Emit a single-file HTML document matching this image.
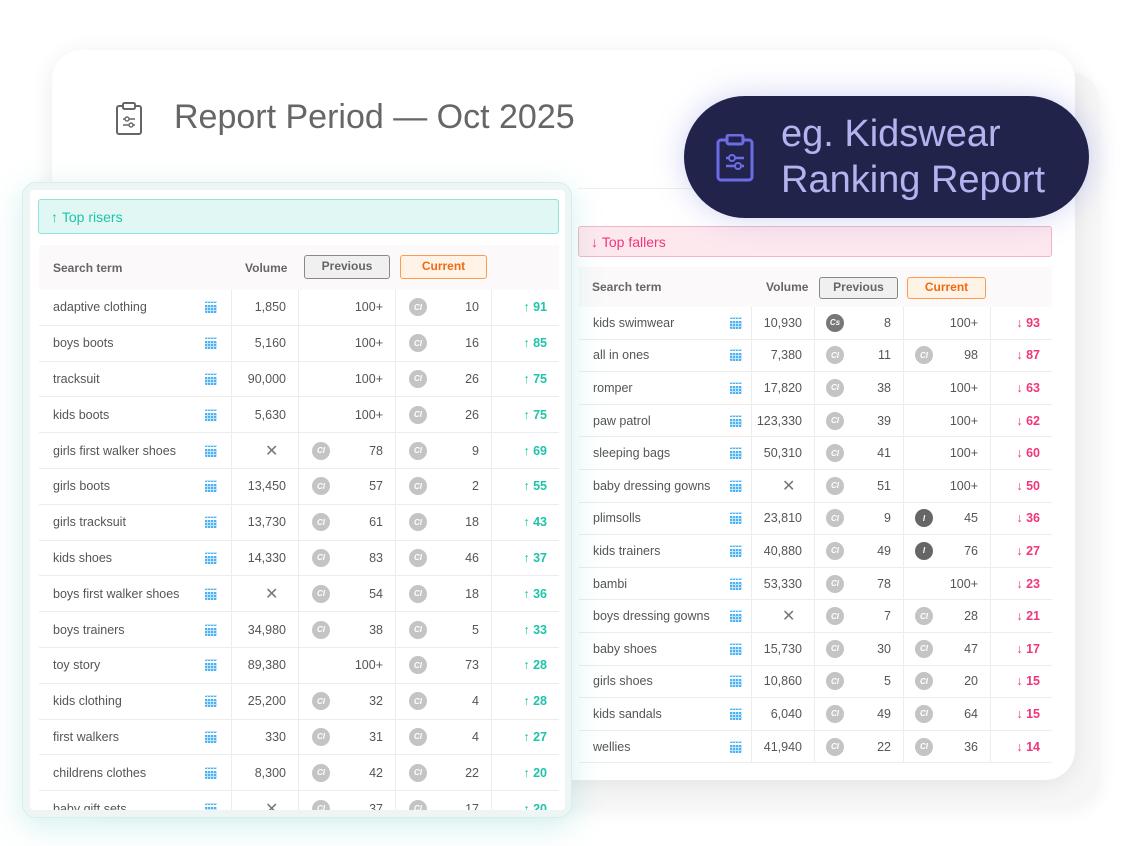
<!DOCTYPE html>
<html><head><meta charset="utf-8"><style>
*{box-sizing:border-box;margin:0;padding:0}
body{width:1140px;height:846px;background:#fff;position:relative;overflow:hidden;font-family:"Liberation Sans",sans-serif;color:#555}
.back2{position:absolute;left:80px;top:72px;width:1020px;height:732px;border-radius:30px;background:#f6f6f6;box-shadow:0 6px 20px rgba(0,0,0,.06)}
.back{position:absolute;left:52px;top:50px;width:1023px;height:730px;border-radius:30px;background:#fff;box-shadow:0 4px 24px rgba(0,0,0,.08)}
.title{position:absolute;left:174px;top:98px;font-size:34px;color:#666;letter-spacing:0px}
.pill{position:absolute;left:684px;top:96px;width:405px;height:122px;border-radius:61px;background:#22234a;box-shadow:0 0 30px rgba(120,130,220,.35)}
.pill .t{position:absolute;left:97px;top:15px;font-size:38px;line-height:46px;color:#b4b3ef}
.left{position:absolute;left:22px;top:182px;width:550px;height:636px;border-radius:14px;background:#eef6f5;border:1px solid #d6efec;box-shadow:0 8px 30px rgba(80,200,190,.25)}
.leftin{position:absolute;left:30px;top:190px;width:535px;height:620px;background:#fff;overflow:hidden;border-radius:4px}
.hdr{position:absolute;font-size:14px;display:flex;align-items:center;padding-left:12px;border-radius:3px}
.rise{left:38px;top:199px;width:521px;height:35px;background:#e1f7f4;border:1.5px solid #8fe3d8;color:#1ec4a8}
.fall{left:578px;top:226px;width:474px;height:31px;background:#fde8ee;border:1.5px solid #f6b3c8;color:#f0357a}
.thead{position:absolute;background:#fbf9f9;font-size:12px;font-weight:bold;color:#666}
.thead span{position:absolute}
.btn{position:absolute;border-radius:3px;text-align:center;font-size:12px;font-weight:bold}
.prevb{background:#f0f0f0;border:1.5px solid #888;color:#666}
.curb{background:#fff3e8;border:1.5px solid #ff9a4a;color:#f26a10}
.tbl{position:absolute;font-size:12.5px;color:#555}
.row{display:flex;border-bottom:1.5px solid #ececec}
.c{position:relative;border-right:1.5px solid #ececec;display:flex;align-items:center;justify-content:flex-end;padding-right:12px}
.c:last-child{border-right:none}
.c.term{justify-content:flex-start;padding-left:14px}
.cal{position:absolute;width:12px;height:12px;background:#4db0f0;border-radius:1px;background-image:linear-gradient(#fff 0 0),repeating-linear-gradient(90deg,transparent 0 2px,#bfe4fb 2px 3px),repeating-linear-gradient(0deg,transparent 0 2px,#bfe4fb 2px 3px);background-size:12px 2px,100% 100%,100% 100%;background-repeat:no-repeat;background-position:0 2px,0 0,0 0}
.ci{position:absolute;width:18px;height:18px;border-radius:50%;background:#c4c4c4;color:#fff;font-size:8px;font-weight:bold;display:flex;align-items:center;justify-content:center}
.ci.d{background:#666}
.x{position:absolute;font-size:16px;color:#777;font-weight:normal}
.up{color:#1ec4a8;font-weight:bold}
.dn{color:#f0357a;font-weight:bold}
</style></head><body>
<div class="back2"></div>
<div class="back"></div>
<svg style="position:absolute;left:114px;top:102px" width="30" height="34" viewBox="0 0 30 34"><rect x="3" y="4" width="24" height="28" rx="2" fill="none" stroke="#666" stroke-width="2"/><rect x="9" y="1" width="12" height="6" rx="1.5" fill="#fff" stroke="#666" stroke-width="2"/><path d="M9 17h12M9 23h12" stroke="#666" stroke-width="1.6"/><circle cx="13" cy="17" r="2" fill="#fff" stroke="#666" stroke-width="1.4"/><circle cx="17" cy="23" r="2" fill="#fff" stroke="#666" stroke-width="1.4"/></svg>
<div class="title">Report Period — Oct 2025</div>
<div style="position:absolute;left:578px;top:188px;width:490px;border-top:1px solid #eee"></div>

<div class="hdr fall">↓&nbsp;Top fallers</div>
<div class="thead" style="left:579px;top:267px;width:473px;height:40px">
<span style="left:13px;top:13px">Search term</span><span style="left:187px;top:13px">Volume</span>
</div>
<div class="btn prevb" style="left:819px;top:277px;width:79px;height:22px;line-height:19px">Previous</div>
<div class="btn curb" style="left:907px;top:277px;width:79px;height:22px;line-height:19px">Current</div>
<div class="tbl" style="left:579px;top:307px;width:473px">
<div class="row" style="height:32.6px"><div class="c term" style="width:173px">kids swimwear<i class="cal" style="left:151px"></i></div><div class="c" style="width:63px">10,930</div><div class="c" style="width:89px"><i class="ci d" style="left:11px;background:#777">Cs</i>8</div><div class="c" style="width:87px">100+</div><div class="c dn" style="width:61px">↓ 93</div></div>
<div class="row" style="height:32.6px"><div class="c term" style="width:173px">all in ones<i class="cal" style="left:151px"></i></div><div class="c" style="width:63px">7,380</div><div class="c" style="width:89px"><i class="ci" style="left:11px">CI</i>11</div><div class="c" style="width:87px"><i class="ci" style="left:11px">CI</i>98</div><div class="c dn" style="width:61px">↓ 87</div></div>
<div class="row" style="height:32.6px"><div class="c term" style="width:173px">romper<i class="cal" style="left:151px"></i></div><div class="c" style="width:63px">17,820</div><div class="c" style="width:89px"><i class="ci" style="left:11px">CI</i>38</div><div class="c" style="width:87px">100+</div><div class="c dn" style="width:61px">↓ 63</div></div>
<div class="row" style="height:32.6px"><div class="c term" style="width:173px">paw patrol<i class="cal" style="left:151px"></i></div><div class="c" style="width:63px">123,330</div><div class="c" style="width:89px"><i class="ci" style="left:11px">CI</i>39</div><div class="c" style="width:87px">100+</div><div class="c dn" style="width:61px">↓ 62</div></div>
<div class="row" style="height:32.6px"><div class="c term" style="width:173px">sleeping bags<i class="cal" style="left:151px"></i></div><div class="c" style="width:63px">50,310</div><div class="c" style="width:89px"><i class="ci" style="left:11px">CI</i>41</div><div class="c" style="width:87px">100+</div><div class="c dn" style="width:61px">↓ 60</div></div>
<div class="row" style="height:32.6px"><div class="c term" style="width:173px">baby dressing gowns<i class="cal" style="left:151px"></i></div><div class="c" style="width:63px"><span class="x" style="left:30px">✕</span></div><div class="c" style="width:89px"><i class="ci" style="left:11px">CI</i>51</div><div class="c" style="width:87px">100+</div><div class="c dn" style="width:61px">↓ 50</div></div>
<div class="row" style="height:32.6px"><div class="c term" style="width:173px">plimsolls<i class="cal" style="left:151px"></i></div><div class="c" style="width:63px">23,810</div><div class="c" style="width:89px"><i class="ci" style="left:11px">CI</i>9</div><div class="c" style="width:87px"><i class="ci d" style="left:11px">I</i>45</div><div class="c dn" style="width:61px">↓ 36</div></div>
<div class="row" style="height:32.6px"><div class="c term" style="width:173px">kids trainers<i class="cal" style="left:151px"></i></div><div class="c" style="width:63px">40,880</div><div class="c" style="width:89px"><i class="ci" style="left:11px">CI</i>49</div><div class="c" style="width:87px"><i class="ci d" style="left:11px">I</i>76</div><div class="c dn" style="width:61px">↓ 27</div></div>
<div class="row" style="height:32.6px"><div class="c term" style="width:173px">bambi<i class="cal" style="left:151px"></i></div><div class="c" style="width:63px">53,330</div><div class="c" style="width:89px"><i class="ci" style="left:11px">CI</i>78</div><div class="c" style="width:87px">100+</div><div class="c dn" style="width:61px">↓ 23</div></div>
<div class="row" style="height:32.6px"><div class="c term" style="width:173px">boys dressing gowns<i class="cal" style="left:151px"></i></div><div class="c" style="width:63px"><span class="x" style="left:30px">✕</span></div><div class="c" style="width:89px"><i class="ci" style="left:11px">CI</i>7</div><div class="c" style="width:87px"><i class="ci" style="left:11px">CI</i>28</div><div class="c dn" style="width:61px">↓ 21</div></div>
<div class="row" style="height:32.6px"><div class="c term" style="width:173px">baby shoes<i class="cal" style="left:151px"></i></div><div class="c" style="width:63px">15,730</div><div class="c" style="width:89px"><i class="ci" style="left:11px">CI</i>30</div><div class="c" style="width:87px"><i class="ci" style="left:11px">CI</i>47</div><div class="c dn" style="width:61px">↓ 17</div></div>
<div class="row" style="height:32.6px"><div class="c term" style="width:173px">girls shoes<i class="cal" style="left:151px"></i></div><div class="c" style="width:63px">10,860</div><div class="c" style="width:89px"><i class="ci" style="left:11px">CI</i>5</div><div class="c" style="width:87px"><i class="ci" style="left:11px">CI</i>20</div><div class="c dn" style="width:61px">↓ 15</div></div>
<div class="row" style="height:32.6px"><div class="c term" style="width:173px">kids sandals<i class="cal" style="left:151px"></i></div><div class="c" style="width:63px">6,040</div><div class="c" style="width:89px"><i class="ci" style="left:11px">CI</i>49</div><div class="c" style="width:87px"><i class="ci" style="left:11px">CI</i>64</div><div class="c dn" style="width:61px">↓ 15</div></div>
<div class="row" style="height:32.6px"><div class="c term" style="width:173px">wellies<i class="cal" style="left:151px"></i></div><div class="c" style="width:63px">41,940</div><div class="c" style="width:89px"><i class="ci" style="left:11px">CI</i>22</div><div class="c" style="width:87px"><i class="ci" style="left:11px">CI</i>36</div><div class="c dn" style="width:61px">↓ 14</div></div>
</div>

<div class="left"></div>
<div class="leftin"></div>
<div class="hdr rise">↑&nbsp;Top risers</div>
<div class="thead" style="left:39px;top:245px;width:520px;height:45px">
<span style="left:14px;top:16px">Search term</span><span style="left:206px;top:16px">Volume</span>
</div>
<div class="btn prevb" style="left:304px;top:255px;width:86px;height:24px;line-height:21px">Previous</div>
<div class="btn curb" style="left:400px;top:255px;width:87px;height:24px;line-height:21px">Current</div>
<div style="position:absolute;left:39px;top:290px;width:520px;height:520px;overflow:hidden">
<div class="tbl" style="left:0;top:0;width:520px">
<div class="row" style="height:35.8px"><div class="c term" style="width:193px">adaptive clothing<i class="cal" style="left:166px"></i></div><div class="c" style="width:67px">1,850</div><div class="c" style="width:97px">100+</div><div class="c" style="width:96px"><i class="ci" style="left:13px">CI</i>10</div><div class="c up" style="width:67px">↑ 91</div></div>
<div class="row" style="height:35.8px"><div class="c term" style="width:193px">boys boots<i class="cal" style="left:166px"></i></div><div class="c" style="width:67px">5,160</div><div class="c" style="width:97px">100+</div><div class="c" style="width:96px"><i class="ci" style="left:13px">CI</i>16</div><div class="c up" style="width:67px">↑ 85</div></div>
<div class="row" style="height:35.8px"><div class="c term" style="width:193px">tracksuit<i class="cal" style="left:166px"></i></div><div class="c" style="width:67px">90,000</div><div class="c" style="width:97px">100+</div><div class="c" style="width:96px"><i class="ci" style="left:13px">CI</i>26</div><div class="c up" style="width:67px">↑ 75</div></div>
<div class="row" style="height:35.8px"><div class="c term" style="width:193px">kids boots<i class="cal" style="left:166px"></i></div><div class="c" style="width:67px">5,630</div><div class="c" style="width:97px">100+</div><div class="c" style="width:96px"><i class="ci" style="left:13px">CI</i>26</div><div class="c up" style="width:67px">↑ 75</div></div>
<div class="row" style="height:35.8px"><div class="c term" style="width:193px">girls first walker shoes<i class="cal" style="left:166px"></i></div><div class="c" style="width:67px"><span class="x" style="left:33px">✕</span></div><div class="c" style="width:97px"><i class="ci" style="left:13px">CI</i>78</div><div class="c" style="width:96px"><i class="ci" style="left:13px">CI</i>9</div><div class="c up" style="width:67px">↑ 69</div></div>
<div class="row" style="height:35.8px"><div class="c term" style="width:193px">girls boots<i class="cal" style="left:166px"></i></div><div class="c" style="width:67px">13,450</div><div class="c" style="width:97px"><i class="ci" style="left:13px">CI</i>57</div><div class="c" style="width:96px"><i class="ci" style="left:13px">CI</i>2</div><div class="c up" style="width:67px">↑ 55</div></div>
<div class="row" style="height:35.8px"><div class="c term" style="width:193px">girls tracksuit<i class="cal" style="left:166px"></i></div><div class="c" style="width:67px">13,730</div><div class="c" style="width:97px"><i class="ci" style="left:13px">CI</i>61</div><div class="c" style="width:96px"><i class="ci" style="left:13px">CI</i>18</div><div class="c up" style="width:67px">↑ 43</div></div>
<div class="row" style="height:35.8px"><div class="c term" style="width:193px">kids shoes<i class="cal" style="left:166px"></i></div><div class="c" style="width:67px">14,330</div><div class="c" style="width:97px"><i class="ci" style="left:13px">CI</i>83</div><div class="c" style="width:96px"><i class="ci" style="left:13px">CI</i>46</div><div class="c up" style="width:67px">↑ 37</div></div>
<div class="row" style="height:35.8px"><div class="c term" style="width:193px">boys first walker shoes<i class="cal" style="left:166px"></i></div><div class="c" style="width:67px"><span class="x" style="left:33px">✕</span></div><div class="c" style="width:97px"><i class="ci" style="left:13px">CI</i>54</div><div class="c" style="width:96px"><i class="ci" style="left:13px">CI</i>18</div><div class="c up" style="width:67px">↑ 36</div></div>
<div class="row" style="height:35.8px"><div class="c term" style="width:193px">boys trainers<i class="cal" style="left:166px"></i></div><div class="c" style="width:67px">34,980</div><div class="c" style="width:97px"><i class="ci" style="left:13px">CI</i>38</div><div class="c" style="width:96px"><i class="ci" style="left:13px">CI</i>5</div><div class="c up" style="width:67px">↑ 33</div></div>
<div class="row" style="height:35.8px"><div class="c term" style="width:193px">toy story<i class="cal" style="left:166px"></i></div><div class="c" style="width:67px">89,380</div><div class="c" style="width:97px">100+</div><div class="c" style="width:96px"><i class="ci" style="left:13px">CI</i>73</div><div class="c up" style="width:67px">↑ 28</div></div>
<div class="row" style="height:35.8px"><div class="c term" style="width:193px">kids clothing<i class="cal" style="left:166px"></i></div><div class="c" style="width:67px">25,200</div><div class="c" style="width:97px"><i class="ci" style="left:13px">CI</i>32</div><div class="c" style="width:96px"><i class="ci" style="left:13px">CI</i>4</div><div class="c up" style="width:67px">↑ 28</div></div>
<div class="row" style="height:35.8px"><div class="c term" style="width:193px">first walkers<i class="cal" style="left:166px"></i></div><div class="c" style="width:67px">330</div><div class="c" style="width:97px"><i class="ci" style="left:13px">CI</i>31</div><div class="c" style="width:96px"><i class="ci" style="left:13px">CI</i>4</div><div class="c up" style="width:67px">↑ 27</div></div>
<div class="row" style="height:35.8px"><div class="c term" style="width:193px">childrens clothes<i class="cal" style="left:166px"></i></div><div class="c" style="width:67px">8,300</div><div class="c" style="width:97px"><i class="ci" style="left:13px">CI</i>42</div><div class="c" style="width:96px"><i class="ci" style="left:13px">CI</i>22</div><div class="c up" style="width:67px">↑ 20</div></div>
<div class="row" style="height:35.8px"><div class="c term" style="width:193px">baby gift sets<i class="cal" style="left:166px"></i></div><div class="c" style="width:67px"><span class="x" style="left:33px">✕</span></div><div class="c" style="width:97px"><i class="ci" style="left:13px">CI</i>37</div><div class="c" style="width:96px"><i class="ci" style="left:13px">CI</i>17</div><div class="c up" style="width:67px">↑ 20</div></div>
</div></div>

<div class="pill">
<svg style="position:absolute;left:31px;top:38px" width="40" height="48" viewBox="0 0 40 48"><rect x="3" y="6" width="34" height="40" rx="3" fill="none" stroke="#6b6ce6" stroke-width="3"/><rect x="12" y="1" width="16" height="9" rx="2" fill="#22234a" stroke="#6b6ce6" stroke-width="3"/><path d="M11 24h18M11 32h18" stroke="#6b6ce6" stroke-width="2.5"/><circle cx="17" cy="24" r="3" fill="#22234a" stroke="#6b6ce6" stroke-width="2"/><circle cx="23" cy="32" r="3" fill="#22234a" stroke="#6b6ce6" stroke-width="2"/></svg>
<div class="t">eg. Kidswear<br>Ranking Report</div>
</div>
</body></html>
